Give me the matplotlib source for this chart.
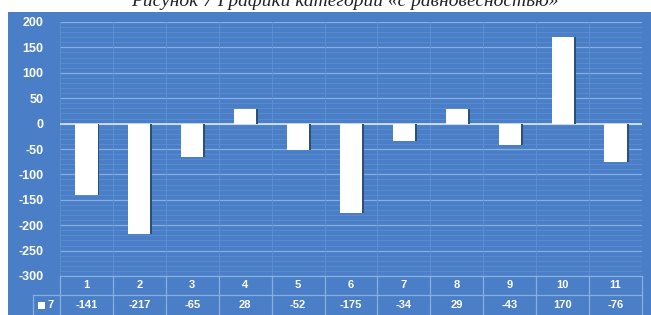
import numpy as np
import matplotlib.pyplot as plt
from matplotlib.patches import Rectangle
from matplotlib.transforms import blended_transform_factory

plt.rcParams['axes.unicode_minus'] = False

# data
categories = ['1', '2', '3', '4', '5', '6', '7', '8', '9', '10', '11']
values = [-141, -217, -65, 28, -52, -175, -34, 29, -43, 170, -76]
series_name = '7'
title = 'Рисунок 7 Графики категорий «с равновесностью»'

BLUE = '#4a7ec6'
GRID = '#86aee2'
MINOR = '#5e90d3'
W, H = 651, 315

fig = plt.figure(figsize=(W / 100, H / 100), dpi=100)
fig.patch.set_facecolor('white')

# blue chart background
fig.patches.append(Rectangle((8 / W, 0), 1, 1 - 12 / H, transform=fig.transFigure,
                             facecolor=BLUE, edgecolor='none', zorder=-5))

# cut-off caption at the top
fig.text(345 / W, 1 - 6 / H, title, ha='center', va='baseline', fontsize=14,
         family='Liberation Serif', style='italic', color='#222222')

ax = fig.add_axes([60 / W, 1 - 276 / H, 582 / W, 254 / H])
ax.set_facecolor(BLUE)
x = np.arange(1, len(values) + 1)
ax.set_xlim(0.5, len(values) + 0.5)
ax.set_ylim(-300, 200)

# gridlines
for yv in np.arange(-300, 201, 10):
    major = yv % 50 == 0
    ax.axhline(yv, color=GRID if major else MINOR, lw=0.9 if major else 0.5, zorder=1)
for xv in np.arange(0.5, len(values) + 1, 1):
    ax.axvline(xv, color=MINOR, lw=0.6, zorder=1)
ax.axhline(0, color='#d8e6f8', lw=1.2, zorder=2)

# shadow then bars
ax.bar(x + 0.035, values, width=0.42, color='#2b5275', zorder=3)
ax.bar(x, values, width=0.42, color='white', zorder=4)

for s in ax.spines.values():
    s.set_visible(False)
ax.set_xticks([])
ax.set_yticks(np.arange(-300, 201, 50))
ax.tick_params(axis='y', length=0, pad=12, labelcolor='white', labelsize=9)
for lab in ax.get_yticklabels():
    lab.set_fontweight('bold')
    lab.set_family('Liberation Sans')

# data table under the axis
tr = blended_transform_factory(ax.transData, ax.transAxes)
r1 = -19 / 254
r2 = -40 / 254
lc = GRID
for i, (c, v) in enumerate(zip(categories, values)):
    ax.text(x[i], r1 / 2, c, transform=tr, ha='center', va='center', color='white',
            fontsize=8, fontweight='bold', family='Liberation Sans', clip_on=False)
    ax.text(x[i], (r1 + r2) / 2, str(v), transform=tr, ha='center', va='center',
            color='white', fontsize=8, fontweight='bold', family='Liberation Sans',
            clip_on=False)
for xv in np.arange(0.5, len(values) + 1, 1):
    ax.plot([xv, xv], [0, r2], transform=tr, color=lc, lw=0.9, clip_on=False)
ax.plot([0.5, len(values) + 0.5], [r1, r1], transform=tr, color=lc, lw=0.9, clip_on=False)
ax.plot([0.5, len(values) + 0.5], [0, 0], transform=tr, color=lc, lw=0.9, clip_on=False)

# row header with legend key
hx0 = -27 / 582
ax.plot([hx0, 0], [r1, r1], transform=ax.transAxes, color=lc, lw=0.9, clip_on=False)
ax.plot([hx0, hx0], [r1, r2], transform=ax.transAxes, color=lc, lw=0.9, clip_on=False)
ax.add_patch(Rectangle((-22 / 582, (r1 + r2) / 2 - 3.5 / 254), 7 / 582, 7 / 254,
                       transform=ax.transAxes, facecolor='white', edgecolor='none',
                       clip_on=False))
ax.text(-13 / 582, (r1 + r2) / 2, series_name, transform=ax.transAxes, ha='left',
        va='center', color='white', fontsize=8, fontweight='bold',
        family='Liberation Sans', clip_on=False)

fig.savefig('out.png', dpi=100)
